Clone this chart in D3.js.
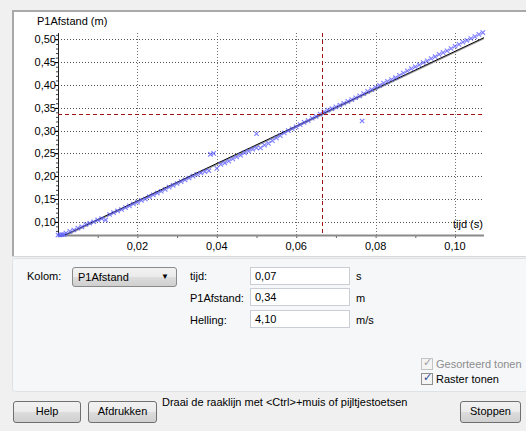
<!DOCTYPE html>
<html lang="nl">
<head>
<meta charset="UTF-8">
<title>Raaklijn P1Afstand</title>
<script src="https://d3js.org/d3.v7.min.js"></script>
<style>
  body { margin: 0; background: #f0f0f0; font-family: "Liberation Sans", Arial, sans-serif; font-size: 11px; color: #000; }
  #wrap { position: relative; width: 526px; height: 431px; overflow: hidden; }
  svg { position: absolute; left: 0; top: 0; }
  .lbl { position: absolute; line-height: 14px; }
  .box { position: absolute; background: #fff; border: 1px solid #c9ced6; box-sizing: border-box; padding: 2px 4px; line-height: 13px; }
  .btn { position: absolute; box-sizing: border-box; border: 1px solid #707070; border-radius: 3px;
         background: linear-gradient(#f2f2f2, #ebebeb 50%, #dddddd 51%, #cfcfcf); text-align: center; line-height: 19px; }
  .chk { position: absolute; width: 12px; height: 12px; box-sizing: border-box; border: 1px solid #8f8f8f; background: #f4f4f4; }
  .chk span { position: absolute; left: 1px; top: -3px; font-size: 11px; }
</style>
</head>
<body>
<div id="wrap">
  <svg id="chart" width="526" height="431"></svg>

  <div class="lbl" style="left:27px;top:269px">Kolom:</div>
  <div class="btn" style="left:72px;top:267px;width:105px;height:20px;text-align:left;padding-left:5px;line-height:18px;border-color:#8a8a8a">P1Afstand
    <span style="position:absolute;right:7px;top:0;font-size:8px">&#9660;</span></div>

  <div class="lbl" style="left:190px;top:269px">tijd:</div>
  <div class="box" style="left:250px;top:267px;width:100px;height:18px">0,07</div>
  <div class="lbl" style="left:356px;top:269px">s</div>

  <div class="lbl" style="left:190px;top:291px">P1Afstand:</div>
  <div class="box" style="left:250px;top:288px;width:100px;height:18px">0,34</div>
  <div class="lbl" style="left:356px;top:291px">m</div>

  <div class="lbl" style="left:190px;top:313px">Helling:</div>
  <div class="box" style="left:250px;top:310px;width:100px;height:18px">4,10</div>
  <div class="lbl" style="left:356px;top:313px">m/s</div>

  <div class="chk" style="left:421px;top:358px;border-color:#c4c4c4"><span style="color:#a0a0a0">&#10003;</span></div>
  <div class="lbl" style="left:436px;top:357px;color:#8d8d8d">Gesorteerd tonen</div>
  <div class="chk" style="left:421px;top:373px"><span style="color:#2a4a9a">&#10003;</span></div>
  <div class="lbl" style="left:436px;top:372px">Raster tonen</div>

  <div class="btn" style="left:13px;top:401px;width:68px;height:22px">Help</div>
  <div class="btn" style="left:88px;top:401px;width:69px;height:22px">Afdrukken</div>
  <div class="lbl" style="left:162px;top:395px">Draai de raaklijn met &lt;Ctrl&gt;+muis of pijltjestoetsen</div>
  <div class="btn" style="left:460px;top:401px;width:61px;height:22px">Stoppen</div>
</div>

<script>
// meetpunten (tijd in s, afstand in m)
const tijd = [
  0.0000, 0.0005, 0.0010, 0.0015, 0.0020, 0.0030, 0.0040, 0.0050, 0.0060, 0.0070,
  0.0080, 0.0090, 0.0100, 0.0110, 0.0120, 0.0130, 0.0140, 0.0150, 0.0160, 0.0170,
  0.0180, 0.0190, 0.0200, 0.0210, 0.0220, 0.0230, 0.0240, 0.0250, 0.0260, 0.0270,
  0.0280, 0.0290, 0.0300, 0.0310, 0.0320, 0.0330, 0.0340, 0.0350, 0.0360, 0.0370,
  0.0380, 0.0384, 0.0392, 0.0400, 0.0410, 0.0420, 0.0430, 0.0440, 0.0450, 0.0460,
  0.0470, 0.0480, 0.0490, 0.0500, 0.0500, 0.0510, 0.0520, 0.0530, 0.0540, 0.0550,
  0.0560, 0.0570, 0.0580, 0.0590, 0.0600, 0.0610, 0.0620, 0.0630, 0.0640, 0.0650,
  0.0660, 0.0670, 0.0680, 0.0690, 0.0700, 0.0710, 0.0720, 0.0730, 0.0740, 0.0750,
  0.0760, 0.0766, 0.0770, 0.0780, 0.0790, 0.0800, 0.0810, 0.0820, 0.0830, 0.0840,
  0.0850, 0.0860, 0.0870, 0.0880, 0.0890, 0.0900, 0.0910, 0.0920, 0.0930, 0.0940,
  0.0950, 0.0960, 0.0970, 0.0980, 0.0990, 0.1000, 0.1010, 0.1020, 0.1030, 0.1040,
  0.1050, 0.1060, 0.1070
];
const afstand = [
  0.071, 0.071, 0.072, 0.072, 0.075, 0.079, 0.082, 0.086, 0.089, 0.094,
  0.097, 0.100, 0.104, 0.107, 0.104, 0.116, 0.120, 0.124, 0.127, 0.131,
  0.135, 0.139, 0.143, 0.147, 0.150, 0.155, 0.159, 0.163, 0.167, 0.171,
  0.176, 0.180, 0.184, 0.188, 0.192, 0.196, 0.200, 0.204, 0.207, 0.210,
  0.212, 0.248, 0.250, 0.217, 0.226, 0.229, 0.233, 0.238, 0.242, 0.246,
  0.251, 0.255, 0.259, 0.262, 0.293, 0.262, 0.268, 0.272, 0.278, 0.284,
  0.289, 0.295, 0.300, 0.304, 0.308, 0.313, 0.318, 0.322, 0.327, 0.331,
  0.336, 0.341, 0.345, 0.348, 0.352, 0.356, 0.360, 0.364, 0.368, 0.372,
  0.376, 0.321, 0.381, 0.386, 0.390, 0.395, 0.399, 0.404, 0.408, 0.412,
  0.416, 0.421, 0.426, 0.431, 0.436, 0.440, 0.444, 0.449, 0.453, 0.458,
  0.462, 0.467, 0.471, 0.475, 0.480, 0.485, 0.489, 0.494, 0.498, 0.502,
  0.506, 0.511, 0.515
];

// raaklijn
const raakT = 0.0665, raakV = 0.3365, helling = 4.10;

const xTicks = [0.02, 0.04, 0.06, 0.08, 0.10];
const yTicks = [0.10, 0.15, 0.20, 0.25, 0.30, 0.35, 0.40, 0.45, 0.50];
const xDomain = [0, 0.1073], yDomain = [0.071, 0.514];

const svg = d3.select("#chart");
const plot = {left: 58, right: 484, top: 33, bottom: 235};

// onderste paneel
svg.append("rect").attr("x", 12.5).attr("y", 258.5).attr("width", 520).attr("height", 133)
  .attr("rx", 3).attr("fill", "#f5f7f9").attr("stroke", "#dde2e7");

// grafiekpaneel
svg.append("rect").attr("x", 12).attr("y", 10).attr("width", 514).attr("height", 247).attr("fill", "#fff");
svg.append("path").attr("d", "M13,257V11H526").attr("fill", "none").attr("stroke", "#a9a9a9").attr("stroke-width", 2);
svg.append("line").attr("x1", 12).attr("x2", 526).attr("y1", 256.5).attr("y2", 256.5).attr("stroke", "#d8d8d8");

const x = d3.scaleLinear().domain(xDomain).range([plot.left, plot.right]);
const y = d3.scaleLinear().domain(yDomain).range([plot.bottom, plot.top]);

const g = svg.append("g");

// raster
g.selectAll("line.vg").data(xTicks).join("line")
  .attr("x1", d => Math.round(x(d)) + 0.5).attr("x2", d => Math.round(x(d)) + 0.5)
  .attr("y1", plot.top).attr("y2", plot.bottom)
  .attr("stroke", "#707070").attr("stroke-dasharray", "1,2");
g.selectAll("line.hg").data(yTicks).join("line")
  .attr("x1", plot.left).attr("x2", plot.right)
  .attr("y1", d => Math.round(y(d)) + 0.5).attr("y2", d => Math.round(y(d)) + 0.5)
  .attr("stroke", "#505050").attr("stroke-dasharray", "1,2");

// x-as
const xAxis = g.append("g").attr("transform", `translate(0,${plot.bottom})`)
  .call(d3.axisBottom(x).tickValues(d3.range(0.01, 0.107, 0.01)).tickSize(3).tickFormat(""));
xAxis.select(".domain").remove();
xAxis.selectAll("line").attr("stroke", "#606060");
g.append("line").attr("x1", plot.left).attr("x2", plot.right).attr("y1", plot.bottom + 0.5).attr("y2", plot.bottom + 0.5)
  .attr("stroke", "#8a8a8a").attr("stroke-width", 2);
const fmt = d => d3.format(".2f")(d).replace(".", ",");
g.selectAll("text.xt").data(xTicks).join("text")
  .attr("x", d => x(d)).attr("y", plot.bottom + 15).attr("text-anchor", "middle")
  .style("font-size", "11px").text(fmt);

// y-as
const yAxis = g.append("g").attr("transform", `translate(${plot.left},0)`)
  .call(d3.axisLeft(y).tickValues(d3.range(0.08, 0.514, 0.01)).tickSize(2).tickFormat(""));
yAxis.select(".domain").remove();
yAxis.selectAll("line").attr("stroke", "#404040");
g.selectAll("line.ymaj").data(yTicks).join("line")
  .attr("x1", plot.left - 3).attr("x2", plot.left)
  .attr("y1", d => Math.round(y(d)) + 0.5).attr("y2", d => Math.round(y(d)) + 0.5).attr("stroke", "#000");
g.append("line").attr("x1", plot.left + 0.5).attr("x2", plot.left + 0.5).attr("y1", plot.top).attr("y2", plot.bottom)
  .attr("stroke", "#222");
g.selectAll("text.yt").data(yTicks).join("text")
  .attr("x", plot.left - 2).attr("y", d => y(d) + 4).attr("text-anchor", "end")
  .style("font-size", "11px").text(fmt);

svg.append("text").attr("x", 37).attr("y", 25).style("font-size", "11px").text("P1Afstand (m)");
svg.append("text").attr("x", 453).attr("y", 228).style("font-size", "11px").text("tijd (s)");

svg.append("clipPath").attr("id", "clip").append("rect")
  .attr("x", plot.left).attr("y", plot.top).attr("width", plot.right - plot.left).attr("height", plot.bottom - plot.top);

// raaklijn
const lijn = g.append("g").attr("clip-path", "url(#clip)");
const t0 = xDomain[0], t1 = xDomain[1];
lijn.append("line")
  .attr("x1", x(t0)).attr("y1", y(raakV + (t0 - raakT) * helling) + 1)
  .attr("x2", x(t1)).attr("y2", y(raakV + (t1 - raakT) * helling) + 1)
  .attr("stroke", "#9a9a9a").attr("stroke-width", 1.2);
lijn.append("line")
  .attr("x1", x(t0)).attr("y1", y(raakV + (t0 - raakT) * helling))
  .attr("x2", x(t1)).attr("y2", y(raakV + (t1 - raakT) * helling))
  .attr("stroke", "#000").attr("stroke-width", 1);

// meetpunten als kruisjes
const pts = tijd.map((t, i) => [t, afstand[i]]);
const s = 2.2;
g.append("g").selectAll("path").data(pts).join("path")
  .attr("d", d => {
    const px = x(d[0]), py = y(d[1]);
    return `M${px - s},${py - s}L${px + s},${py + s}M${px - s},${py + s}L${px + s},${py - s}`;
  })
  .attr("stroke", "#5a5aff").attr("stroke-opacity", 0.8).attr("stroke-width", 1.1).attr("fill", "none");

// dradenkruis
g.append("line").attr("x1", plot.left).attr("x2", plot.right - 2)
  .attr("y1", Math.round(y(raakV)) + 0.5).attr("y2", Math.round(y(raakV)) + 0.5)
  .attr("stroke", "#a01010").attr("stroke-dasharray", "4,3");
g.append("line").attr("x1", Math.round(x(raakT)) + 0.5).attr("x2", Math.round(x(raakT)) + 0.5)
  .attr("y1", plot.top).attr("y2", plot.bottom)
  .attr("stroke", "#a01010").attr("stroke-dasharray", "4,3");
</script>
</body>
</html>
